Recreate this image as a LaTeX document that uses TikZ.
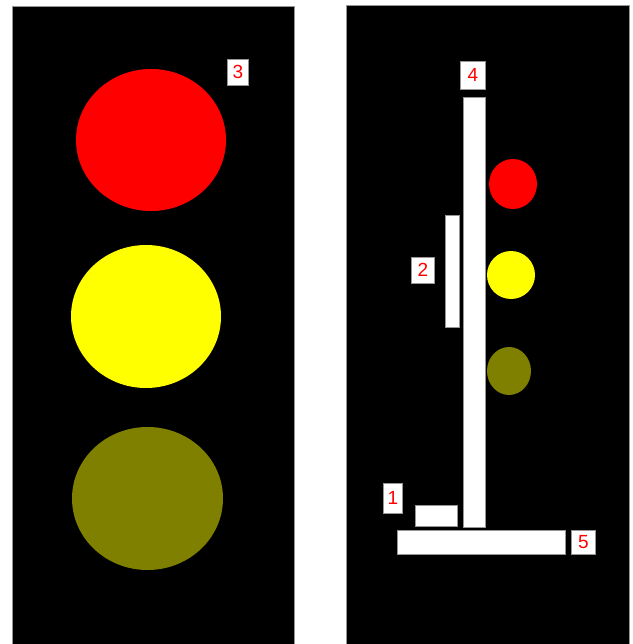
\documentclass[tikz,border=0pt]{standalone}
\usepackage{fontspec}
\setmainfont{Liberation Sans}
\definecolor{olivelamp}{RGB}{128,128,0}
\definecolor{yellowlamp}{RGB}{255,255,0}
\definecolor{redlamp}{RGB}{255,0,0}
\definecolor{edgegray}{RGB}{150,150,150}
\tikzset{
  panel/.style={fill=black, draw=edgegray, line width=0.8pt},
  part/.style={fill=white, draw=edgegray, line width=0.6pt},
  tag/.style={fill=white, draw=edgegray, line width=0.6pt, text=redlamp, font=\fontsize{19}{19}\selectfont, inner sep=0pt, anchor=north west}
}
\begin{document}
\begin{tikzpicture}[x=1pt,y=-1pt]
\useasboundingbox (0,0) rectangle (632,644);
\fill[white] (0,0) rectangle (632,644);
% panels
\draw[panel] (12,6) rectangle (294,650);
\draw[panel] (346,5) rectangle (629,650);
% big lamps
\fill[redlamp] (151,140) ellipse [x radius=75, y radius=71];
\fill[yellowlamp] (146,316.5) ellipse [x radius=75, y radius=71.5];
\fill[olivelamp] (147.5,498.5) ellipse [x radius=75.5, y radius=71.5];
% small lamps
\fill[redlamp] (513,184) ellipse [x radius=24, y radius=25];
\fill[yellowlamp] (511,275) ellipse [x radius=24, y radius=24];
\fill[olivelamp] (509,371) ellipse [x radius=22, y radius=24];
% parts
\draw[part] (463,97) rectangle (485,527);
\draw[part] (445,215) rectangle (459,327);
\draw[part] (415,505) rectangle (457,526);
\draw[part] (397,530) rectangle (565,554);
% labels
\node[tag, minimum width=21, minimum height=26] (l3) at (227,59) {3};
\node[tag, minimum width=25, minimum height=28] (l4) at (460,61) {4};
\node[tag, minimum width=23, minimum height=26] (l2) at (411,257) {2};
\node[tag, minimum width=19, minimum height=30] (l1) at (383,483) {1};
\node[tag, minimum width=24, minimum height=24] (l5) at (571,530) {5};
\end{tikzpicture}
\end{document}
